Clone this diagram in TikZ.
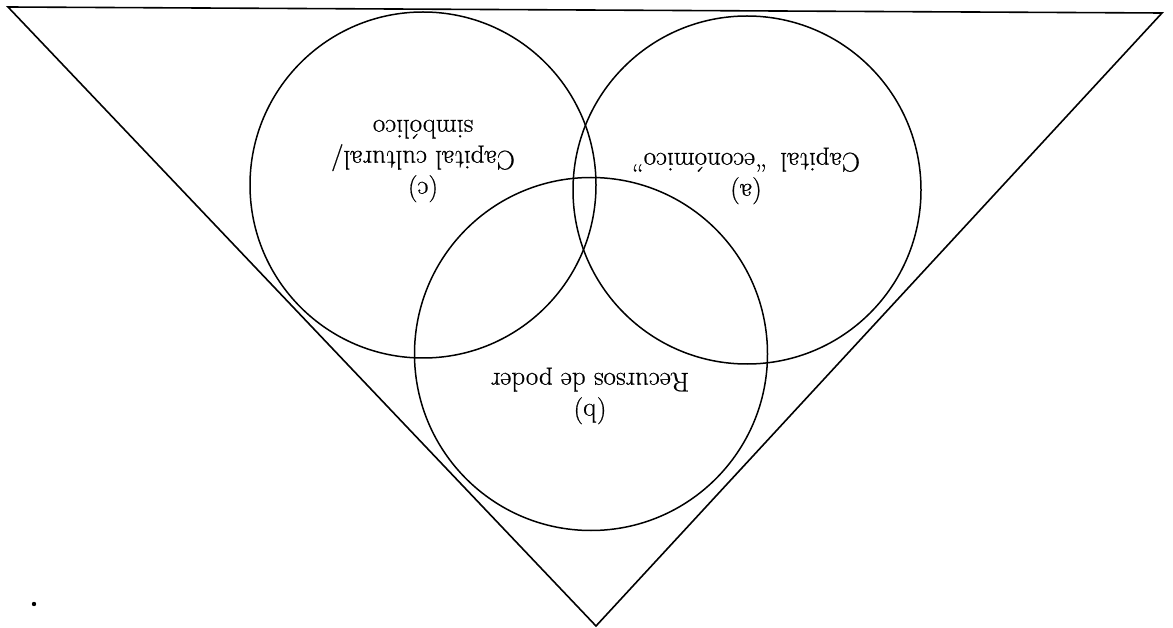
\documentclass[tikz,border=0pt]{standalone}
\usepackage{fontspec}
\newfontfamily\lblfont{Latin Modern Roman}[FakeBold=0.6]
\begin{document}
\begin{tikzpicture}[x=1pt,y=-1pt,
  edge/.style={line width=1.6pt,black},
  ring/.style={circle,draw,line width=1.5pt,inner sep=0pt},
  lbl/.style={rotate=180,align=center,inner sep=0pt,font=\lblfont\fontsize{27}{31}\selectfont}]
\useasboundingbox (0,0) rectangle (1173,628);
\coordinate (tl) at (8,7);
\coordinate (tr) at (1162,13);
\coordinate (ap) at (596,626);
\draw[edge,line join=miter] (tl) -- (tr) -- (ap) -- cycle;
\node[ring,minimum size=346pt] (c) at (423,185) {};
\node[ring,minimum size=348pt] (a) at (747,190) {};
\node[ring,minimum size=353pt] (b) at (591,354) {};
\node[lbl] (tc) at (423,161) {(c)\\Capital cultural/\\simbólico};
\node[lbl] (ta) at (746,176) {(a)\\Capital\enspace“económico”};
\node[lbl] (tb) at (590,396) {(b)\\Recursos de poder};
\fill (34,604) circle (2.2pt);
\end{tikzpicture}
\end{document}
